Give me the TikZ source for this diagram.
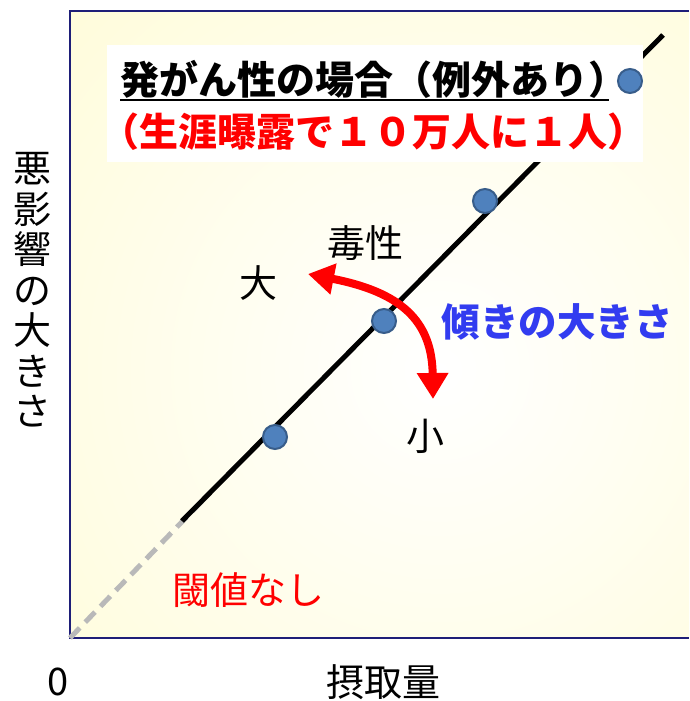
\documentclass[tikz,border=0pt]{standalone}
\usepackage{fontspec}
\setmainfont{Noto Sans CJK JP}
\usetikzlibrary{arrows.meta}
\definecolor{bgyellow}{RGB}{255,251,205}
\definecolor{axisblue}{RGB}{30,30,120}
\definecolor{dotblue}{RGB}{79,129,189}
\definecolor{dotedge}{RGB}{56,93,138}
\definecolor{slopeblue}{RGB}{50,60,240}
\begin{document}
\begin{tikzpicture}[x=1pt,y=-1pt,
  lbl/.style={inner sep=0pt,font=\fontsize{38}{40.5}\selectfont},
  dot/.style={circle,fill=dotblue,draw=dotedge,line width=2pt,minimum size=24pt,inner sep=0pt},
  redarrow/.style={red,line width=8pt,{Triangle[length=26pt,width=30pt]}-{Triangle[length=26pt,width=30pt]}}]
\useasboundingbox (0,0) rectangle (689,701);
% background of the plot
\begin{scope}
\clip (70,11) rectangle (689,638);
\shade[inner color=white,outer color=bgyellow] (440,370) circle (720);
\end{scope}
\draw[axisblue,line width=1.5pt] (689,11) -- (70,11) -- (70,638) -- (689,638);
% threshold free part and the line
\coordinate (origin) at (70,638);
\coordinate (lstart) at (182,521);
\coordinate (lend) at (663,35);
\draw[gray!55,line width=5pt,dash pattern=on 14pt off 8pt] (origin) -- (202,501);
\draw[line width=5pt] (lstart) -- (lend);
% title box
\fill[white] (107,45) rectangle (643,162);
\node[lbl,anchor=base west,font=\fontsize{39}{40.5}\selectfont\bfseries] (title) at (120,94) {発がん性の場合（例外あり）};
\draw[line width=2.5pt] ([yshift=-6pt]title.base west) -- ([yshift=-6pt,xshift=-18pt]title.base east);
\node[lbl,anchor=base west,red,font=\fontsize{39}{40.5}\selectfont\bfseries] (cond) at (100,146) {（生涯曝露で１０万人に１人）};
% points
\node[dot] (d1) at (630,81) {};
\node[dot] (d2) at (485,201) {};
\node[dot] (d3) at (384,321) {};
\node[dot] (d4) at (275,437) {};
% slope arrow
\draw[redarrow] (308,274) .. controls (400,292) and (432,320) .. (433,399);
\node[lbl] (tox) at (365,243) {毒性};
\node[lbl] (big) at (258,283) {大};
\node[lbl] (small) at (425,436) {小};
\node[lbl,slopeblue,font=\fontsize{38.5}{40.5}\selectfont\bfseries] (slope) at (557,322) {傾きの大きさ};
\node[lbl,red] (nothr) at (248,590) {閾値なし};
% axis labels
\node[lbl,align=center] (ylab) at (32,290) {悪\\影\\響\\の\\大\\き\\さ};
\node[lbl] (xlab) at (383,682) {摂取量};
\node[lbl] (zero) at (58,682) {0};
\end{tikzpicture}
\end{document}
